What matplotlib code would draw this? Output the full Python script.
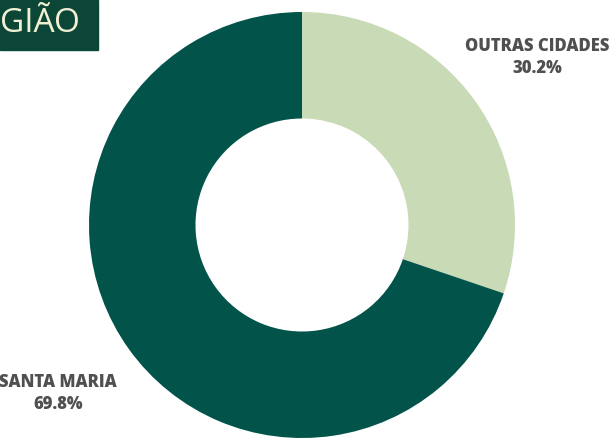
import matplotlib
matplotlib.use("Agg")
import matplotlib.pyplot as plt
from matplotlib import font_manager as fm
from matplotlib.patches import Rectangle

labels = ["OUTRAS CIDADES", "SANTA MARIA"]
shares = [30.2, 69.8]
colors = ["#C9DAB7", "#02544B"]
title_text = "GIÃO"


def open_sans(style, size):
    for f in fm.fontManager.ttflist:
        if f.fname.endswith(f"OpenSans-{style}.ttf"):
            return fm.FontProperties(fname=f.fname, size=size)
    return fm.FontProperties(family="Open Sans", size=size,
                             weight=800 if style == "ExtraBold" else 400,
                             stretch="normal")


W, H = 615, 440
fig = plt.figure(figsize=(W / 100, H / 100), dpi=100)
ax = fig.add_axes([0, 0, 1, 1])
ax.set_xlim(0, W)
ax.set_ylim(0, H)
ax.set_aspect("equal")
ax.axis("off")

cx, cy, r = 302, H - 225, 213
ax.pie(shares, colors=colors, startangle=90, counterclock=False,
       center=(cx, cy), radius=r,
       wedgeprops=dict(width=r * 0.5, edgecolor="none", linewidth=0))
ax.set_xlim(0, W)
ax.set_ylim(0, H)

# header tab
ax.add_patch(Rectangle((0, H - 50), 98, 50, color="#0B4636", zorder=5))
ax.text(0, H - 23, title_text, color="#F2F0D4",
        fontproperties=open_sans("Regular", 24),
        ha="left", va="center", zorder=6)

label_font = open_sans("ExtraBold", 12)
label_pos = [(537, H - 46), (58, H - 382)]
for (x, y), lab, val in zip(label_pos, labels, shares):
    ax.text(x, y, lab, fontproperties=label_font, color="#505050",
            ha="center", va="center")
    ax.text(x, y - 22, f"{val:.1f}%", fontproperties=label_font,
            color="#505050", ha="center", va="center")

fig.savefig("out.png", dpi=100, facecolor="white")
